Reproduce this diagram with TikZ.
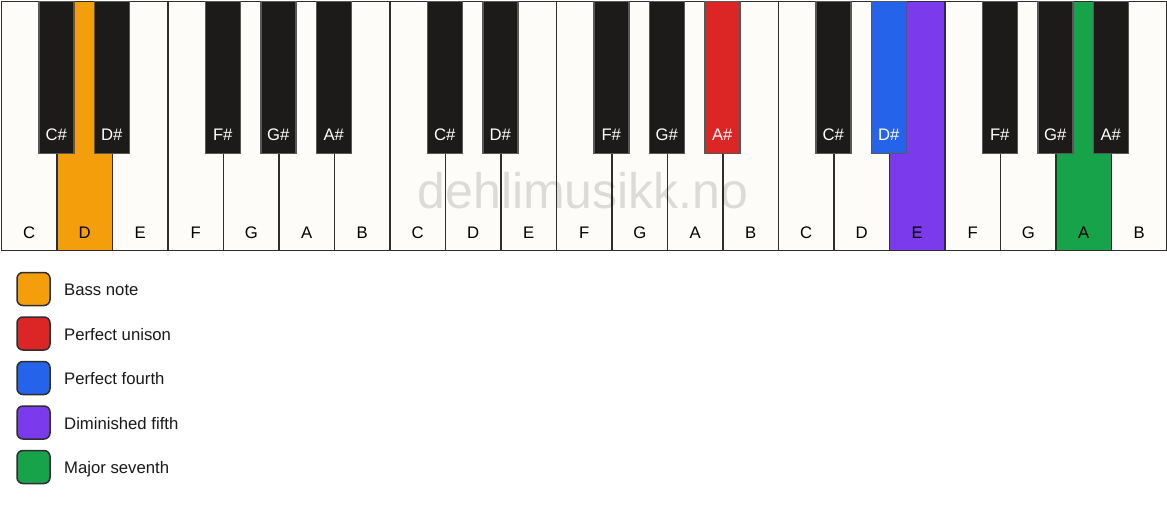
\documentclass[tikz,border=0pt]{standalone}
\usepackage{fontspec}
\setmainfont{Liberation Sans}
\usetikzlibrary{calc}
\definecolor{keywhite}{HTML}{FDFCF8}
\definecolor{keyblack}{HTML}{1C1B19}
\definecolor{keyedge}{HTML}{2E2E2E}
\definecolor{bass}{HTML}{F59E0B}
\definecolor{unison}{HTML}{DC2626}
\definecolor{fourth}{HTML}{2563EB}
\definecolor{dimfifth}{HTML}{7C3AED}
\definecolor{seventh}{HTML}{16A34A}
\tikzset{
  whitekey/.style={draw=keyedge, line width=1.5pt, anchor=north west, minimum width=55.5pt, minimum height=249pt, inner sep=0pt},
  blackkey/.style={draw=keyedge!80, line width=1.5pt, anchor=north, minimum width=35pt, minimum height=152pt, inner sep=0pt},
  wlabel/.style={anchor=base, font=\fontsize{16.7}{19}\selectfont, text=black, inner sep=0pt},
  blabel/.style={anchor=base, font=\fontsize{16.7}{19}\selectfont, inner sep=0pt},
  swatch/.style={draw=keyedge, line width=1.5pt, rounded corners=6pt, minimum width=33pt, minimum height=33pt, inner sep=0pt},
  legendtext/.style={anchor=base west, font=\fontsize{16.7}{19}\selectfont, text=black!90, inner sep=0pt},
  watermark/.style={anchor=base, font=\fontsize{50}{58}\selectfont, text=black, text opacity=0.13, inner sep=0pt}
}
\begin{document}
\begin{tikzpicture}[x=1pt, y=-1pt]
\useasboundingbox[fill=white] (0,0) rectangle (1167,506);
% white keys
\foreach \i/\n/\c in {0/C/keywhite,1/D/bass,2/E/keywhite,3/F/keywhite,4/G/keywhite,5/A/keywhite,6/B/keywhite,
  7/C/keywhite,8/D/keywhite,9/E/keywhite,10/F/keywhite,11/G/keywhite,12/A/keywhite,13/B/keywhite,
  14/C/keywhite,15/D/keywhite,16/E/dimfifth,17/F/keywhite,18/G/keywhite,19/A/seventh,20/B/keywhite}{
  \node[whitekey, fill=\c] (w\i) at ({0.75+\i*55.5},0.75) {};
  \node[wlabel] (wl\i) at ($(w\i.south)+(0,-13)$) {\n};
}
% watermark
\node[watermark] (wm) at (583,208) {dehlimusikk.no};
% black keys
\foreach \k/\n/\c/\t in {1/C\#/keyblack/white,2/D\#/keyblack/white,4/F\#/keyblack/white,5/G\#/keyblack/white,6/A\#/keyblack/white,
  8/C\#/keyblack/white,9/D\#/keyblack/white,11/F\#/keyblack/white,12/G\#/keyblack/white,13/A\#/unison/white,
  15/C\#/keyblack/white,16/D\#/fourth/white,18/F\#/keyblack/white,19/G\#/keyblack/white,20/A\#/keyblack/white}{
  \node[blackkey, fill=\c] (b\k) at ({0.75+\k*55.5},0.75) {};
  \node[blabel, text=\t] (bl\k) at ($(b\k.south)+(0,-14)$) {\n};
}
% legend
\foreach \j/\c/\l in {0/bass/Bass note,1/unison/Perfect unison,2/fourth/Perfect fourth,3/dimfifth/Diminished fifth,4/seventh/Major seventh}{
  \node[swatch, fill=\c] (s\j) at (33.5,{289+\j*44.5}) {};
  \node[legendtext] (t\j) at (64,{295.5+\j*44.5}) {\l};
}
\end{tikzpicture}
\end{document}
